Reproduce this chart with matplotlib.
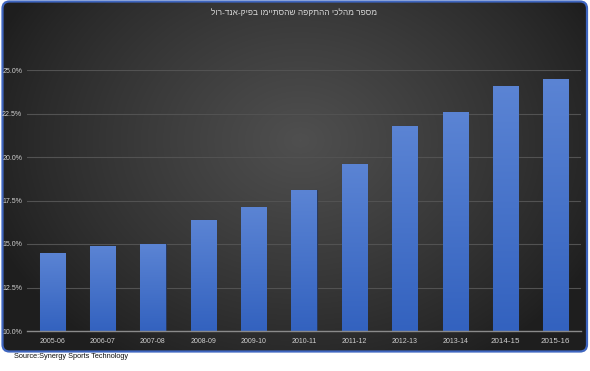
import numpy as np
import matplotlib
matplotlib.use("Agg")
import matplotlib.pyplot as plt
from matplotlib.patches import FancyBboxPatch
from matplotlib.colors import LinearSegmentedColormap
from matplotlib.ticker import FuncFormatter

seasons = ["2005-06", "2006-07", "2007-08", "2008-09", "2009-10", "2010-11",
           "2011-12", "2012-13", "2013-14", "2014-15", "2015-16"]
share = [14.5, 14.9, 15.0, 16.4, 17.1, 18.1, 19.6, 21.8, 22.6, 24.1, 24.5]
title = "מספר מהלכי ההתקפה שהסתיימו בפיק-אנד-רול"
source = "Source:Synergy Sports Technology"
yticks = [10.0, 12.5, 15.0, 17.5, 20.0, 22.5, 25.0]

W, H = 590, 371
fig = plt.figure(figsize=(W / 100, H / 100), dpi=100)
fig.patch.set_facecolor("white")

# background panel
bg = fig.add_axes([0, 0, 1, 1])
bg.set_xlim(0, W)
bg.set_ylim(H, 0)
bg.axis("off")
panel = FancyBboxPatch((2.5, 1.5), 584.5, 350, boxstyle="round,pad=0,rounding_size=7",
                       facecolor="none", edgecolor="#3f66c0", linewidth=1.6, zorder=3)
bg.add_patch(panel)
yy, xx = np.mgrid[0:H, 0:W]
cx, cy = 300, 140
r = np.sqrt(((xx - cx) / 330.0) ** 2 + ((yy - cy) / 260.0) ** 2)
cmap_bg = LinearSegmentedColormap.from_list("bg", ["#1e1e1e", "#4f4f4f"])
val = np.clip(1 - r, 0, 1) ** 0.85
im = bg.imshow(val, cmap=cmap_bg, vmin=0, vmax=1, extent=(0, W, H, 0), zorder=1,
               interpolation="bilinear")
clip = FancyBboxPatch((2.5, 1.5), 584.5, 350, boxstyle="round,pad=0,rounding_size=7",
                      facecolor="none", edgecolor="none", transform=bg.transData)
bg.add_patch(clip)
im.set_clip_path(clip)
bg.set_xlim(0, W)
bg.set_ylim(H, 0)

# matplotlib lays glyphs out left to right, so the Hebrew title is reversed for display
bg.text(294, 13, title[::-1], ha="center", va="center", fontsize=6.0,
        color="#d8d8d8", family=["Liberation Sans", "DejaVu Sans"], zorder=4)
bg.text(14, 357, source, ha="left", va="center", fontsize=5.3, color="#111111",
        family="Liberation Sans", zorder=4)

# main axes
ax = fig.add_axes([27 / W, 1 - 331 / H, (581 - 27) / W, (331 - 70) / H])
ax.patch.set_alpha(0)
x = np.arange(len(seasons))
bars = ax.bar(x, np.array(share) - 10, bottom=10, width=0.5, color="#4a76cc",
              edgecolor="#2a3a5c", linewidth=0.8, zorder=3)
cmap_bar = LinearSegmentedColormap.from_list("bar", ["#3362bf", "#5b84d4"])
grad = np.linspace(0, 1, 256).reshape(-1, 1)
for b in bars:
    bx, by = b.get_x(), b.get_y()
    bw, bh = b.get_width(), b.get_height()
    gi = ax.imshow(grad, cmap=cmap_bar, aspect="auto", origin="lower",
                   extent=(bx, bx + bw, by, by + bh), zorder=3.5)
    gi.set_clip_path(b)

ax.set_xlim(-0.5, len(seasons) - 0.5)
ax.set_ylim(10, 25)
ax.set_yticks(yticks)
ax.yaxis.set_major_formatter(FuncFormatter(lambda v, p: f"{v:.1f}%"))
ax.set_xticks(x)
ax.set_xticklabels(seasons)
for i, lab in enumerate(ax.get_xticklabels()):
    lab.set_fontsize(5.8 if i >= 9 else 5)
    lab.set_family("Liberation Sans")
for lab in ax.get_yticklabels():
    lab.set_family("Liberation Sans")
    lab.set_fontsize(5)
ax.tick_params(axis="x", length=0, pad=5, colors="#d0d0d0")
ax.tick_params(axis="y", length=0, pad=3.5, colors="#d0d0d0")
ax.grid(axis="y", color="#525252", linewidth=0.8, zorder=0)
for s in ["top", "right", "left"]:
    ax.spines[s].set_visible(False)
ax.spines["bottom"].set_color("#8a8a8a")
ax.spines["bottom"].set_linewidth(1.0)
ax.spines["bottom"].set_zorder(4)

fig.savefig("out.png", dpi=100, facecolor=fig.get_facecolor())
